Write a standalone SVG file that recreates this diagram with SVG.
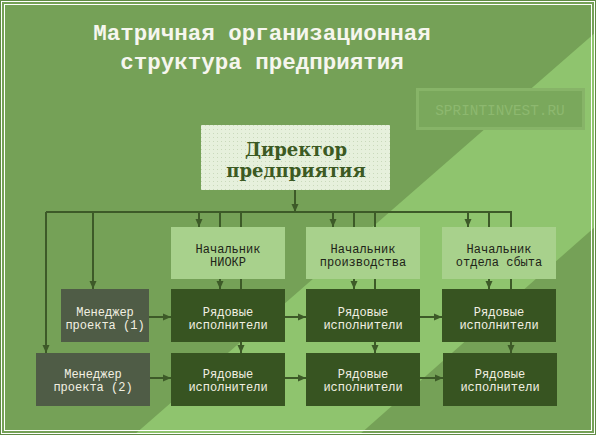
<svg xmlns="http://www.w3.org/2000/svg" width="596" height="435" viewBox="0 0 596 435">
  <defs>
    <pattern id="dots" width="4" height="4" patternUnits="userSpaceOnUse">
      <rect width="4" height="4" fill="#e6f0dc"/>
      <rect x="1" y="1" width="1" height="1" fill="#c9d9bb"/>
    </pattern>
    <marker id="arr" markerUnits="userSpaceOnUse" markerWidth="9" markerHeight="8" refX="8" refY="4" orient="auto">
      <path d="M0,0.5 L8,4 L0,7.5 z" fill="#3d5a28"/>
    </marker>
    <style>
      .title { font-family: "Liberation Mono", "DejaVu Sans Mono", monospace; font-size: 22.5px; font-weight: bold; fill: #f6f6ee; text-anchor: middle; }
      .dir { font-family: "DejaVu Serif", "Liberation Serif", serif; font-size: 18px; font-weight: bold; fill: #3c5a23; text-anchor: middle; }
      .t { font-family: "Liberation Mono", "DejaVu Sans Mono", monospace; font-size: 12px; text-anchor: middle; }
      .dk { fill: #1e2418; }
      .lt { fill: #f2f0e2; }
      .head { fill: #a8d18c; }
      .work { fill: #375421; }
      .mgr { fill: #4f5c46; }
      .conn { stroke: #3d5a28; stroke-width: 2; fill: none; }
      .wm { font-family: "Liberation Mono", "DejaVu Sans Mono", monospace; font-size: 14.4px; fill: #8db86f; text-anchor: middle; }
    </style>
  </defs>

  <!-- background -->
  <rect x="0" y="0" width="596" height="435" fill="#75a157"/>
  <polygon points="596,32 134,435 359,435 596,226" fill="#8fc46e"/>
  <rect x="0.5" y="0.5" width="595" height="434" fill="none" stroke="#5f8a44" stroke-width="1"/>
  <rect x="1.5" y="1.5" width="593" height="432" fill="none" stroke="#ffffff" stroke-width="1"/>
  <rect x="4.5" y="4.5" width="587" height="426" fill="none" stroke="#ffffff" stroke-width="1"/>

  <!-- title -->
  <text class="title" x="262" y="40">Матричная организационная</text>
  <text class="title" x="262" y="69">структура предприятия</text>

  <!-- watermark -->
  <g id="watermark">
    <rect x="417.5" y="89.5" width="166" height="39" fill="#7aa85c" stroke="#87b468" stroke-width="3"/>
    <text class="wm" x="500" y="115">SPRINTINVEST.RU</text>
  </g>

  <!-- connectors -->
  <g id="connectors" class="conn">
    <path d="M46,212 H511"/>
    <path d="M295,190 V212" marker-end="url(#arr)"/>
    <path d="M46,212 V353" marker-end="url(#arr)"/>
    <path d="M93,212 V289" marker-end="url(#arr)"/>
    <path d="M199,212 V227" marker-end="url(#arr)"/>
    <path d="M220,212 V289" marker-end="url(#arr)"/>
    <path d="M241,212 V353" marker-end="url(#arr)"/>
    <path d="M333,212 V227" marker-end="url(#arr)"/>
    <path d="M354,212 V289" marker-end="url(#arr)"/>
    <path d="M375,212 V353" marker-end="url(#arr)"/>
    <path d="M468,212 V227" marker-end="url(#arr)"/>
    <path d="M489,212 V289" marker-end="url(#arr)"/>
    <path d="M511,211 V353" marker-end="url(#arr)"/>
    <path d="M149,317 H171" marker-end="url(#arr)"/>
    <path d="M285,317 H306" marker-end="url(#arr)"/>
    <path d="M420,317 H442" marker-end="url(#arr)"/>
    <path d="M150,378 H171" marker-end="url(#arr)"/>
    <path d="M285,378 H306" marker-end="url(#arr)"/>
    <path d="M420,378 H443" marker-end="url(#arr)"/>
  </g>

  <!-- nodes -->
  <g id="director">
    <rect x="201" y="125" width="189" height="65" fill="url(#dots)"/>
    <text class="dir" x="296" y="156">Директор</text>
    <text class="dir" x="296" y="177">предприятия</text>
  </g>

  <g id="head-niokr">
    <rect class="head" x="171" y="227" width="114" height="52"/>
    <text class="t dk" x="228" y="253">Начальник</text>
    <text class="t dk" x="228" y="266">НИОКР</text>
  </g>
  <g id="head-prod">
    <rect class="head" x="306" y="227" width="114" height="52"/>
    <text class="t dk" x="363" y="253">Начальник</text>
    <text class="t dk" x="363" y="266">производства</text>
  </g>
  <g id="head-sales">
    <rect class="head" x="442" y="227" width="114" height="52"/>
    <text class="t dk" x="499" y="253">Начальник</text>
    <text class="t dk" x="499" y="266">отдела сбыта</text>
  </g>

  <g id="manager-1">
    <rect class="mgr" x="61" y="289" width="88" height="53"/>
    <text class="t lt" x="105" y="316">Менеджер</text>
    <text class="t lt" x="105" y="329">проекта (1)</text>
  </g>
  <g id="manager-2">
    <rect class="mgr" x="36" y="353" width="114" height="53"/>
    <text class="t lt" x="93" y="378">Менеджер</text>
    <text class="t lt" x="93" y="391">проекта (2)</text>
  </g>

  <g id="workers-1-1">
    <rect class="work" x="171" y="289" width="114" height="53"/>
    <text class="t lt" x="228" y="316">Рядовые</text>
    <text class="t lt" x="228" y="329">исполнители</text>
  </g>
  <g id="workers-1-2">
    <rect class="work" x="306" y="289" width="114" height="53"/>
    <text class="t lt" x="363" y="316">Рядовые</text>
    <text class="t lt" x="363" y="329">исполнители</text>
  </g>
  <g id="workers-1-3">
    <rect class="work" x="442" y="289" width="114" height="53"/>
    <text class="t lt" x="499" y="316">Рядовые</text>
    <text class="t lt" x="499" y="329">исполнители</text>
  </g>
  <g id="workers-2-1">
    <rect class="work" x="171" y="353" width="114" height="53"/>
    <text class="t lt" x="228" y="378">Рядовые</text>
    <text class="t lt" x="228" y="391">исполнители</text>
  </g>
  <g id="workers-2-2">
    <rect class="work" x="306" y="353" width="114" height="53"/>
    <text class="t lt" x="363" y="378">Рядовые</text>
    <text class="t lt" x="363" y="391">исполнители</text>
  </g>
  <g id="workers-2-3">
    <rect class="work" x="443" y="353" width="114" height="53"/>
    <text class="t lt" x="500" y="378">Рядовые</text>
    <text class="t lt" x="500" y="391">исполнители</text>
  </g>
</svg>
